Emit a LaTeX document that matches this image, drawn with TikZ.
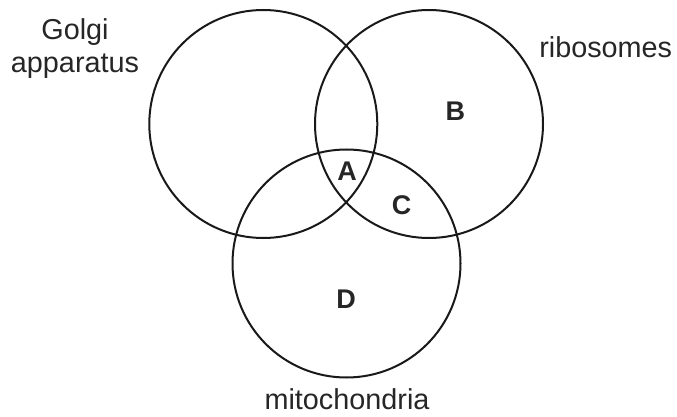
\documentclass[tikz,border=0pt]{standalone}
\usepackage{fontspec}
\setmainfont{Liberation Sans}
\begin{document}
\begin{tikzpicture}[x=1pt,y=-1pt,
  ring/.style={draw=black!90,line width=2pt},
  setlabel/.style={font=\fontsize{28.8}{33}\selectfont,text=black!85,inner sep=0pt,anchor=base},
  region/.style={font=\fontsize{27}{30}\selectfont\bfseries,text=black!85,inner sep=0pt,anchor=base}]
\useasboundingbox (0,0) rectangle (677,417);
\draw[ring] (263.3,124) circle[radius=114];
\draw[ring] (429,124) circle[radius=114];
\draw[ring] (346.5,263.5) circle[radius=114];
\node[setlabel,align=center] (golgi) at (75,73) {Golgi\\apparatus};
\node[setlabel] (ribo) at (605.7,58) {ribosomes};
\node[setlabel] (mito) at (347,409.5) {mitochondria};
\node[region] (A) at (347,180) {A};
\node[region] (B) at (455.3,120.5) {B};
\node[region] (C) at (401.7,214) {C};
\node[region] (D) at (346,308.3) {D};
\end{tikzpicture}
\end{document}
